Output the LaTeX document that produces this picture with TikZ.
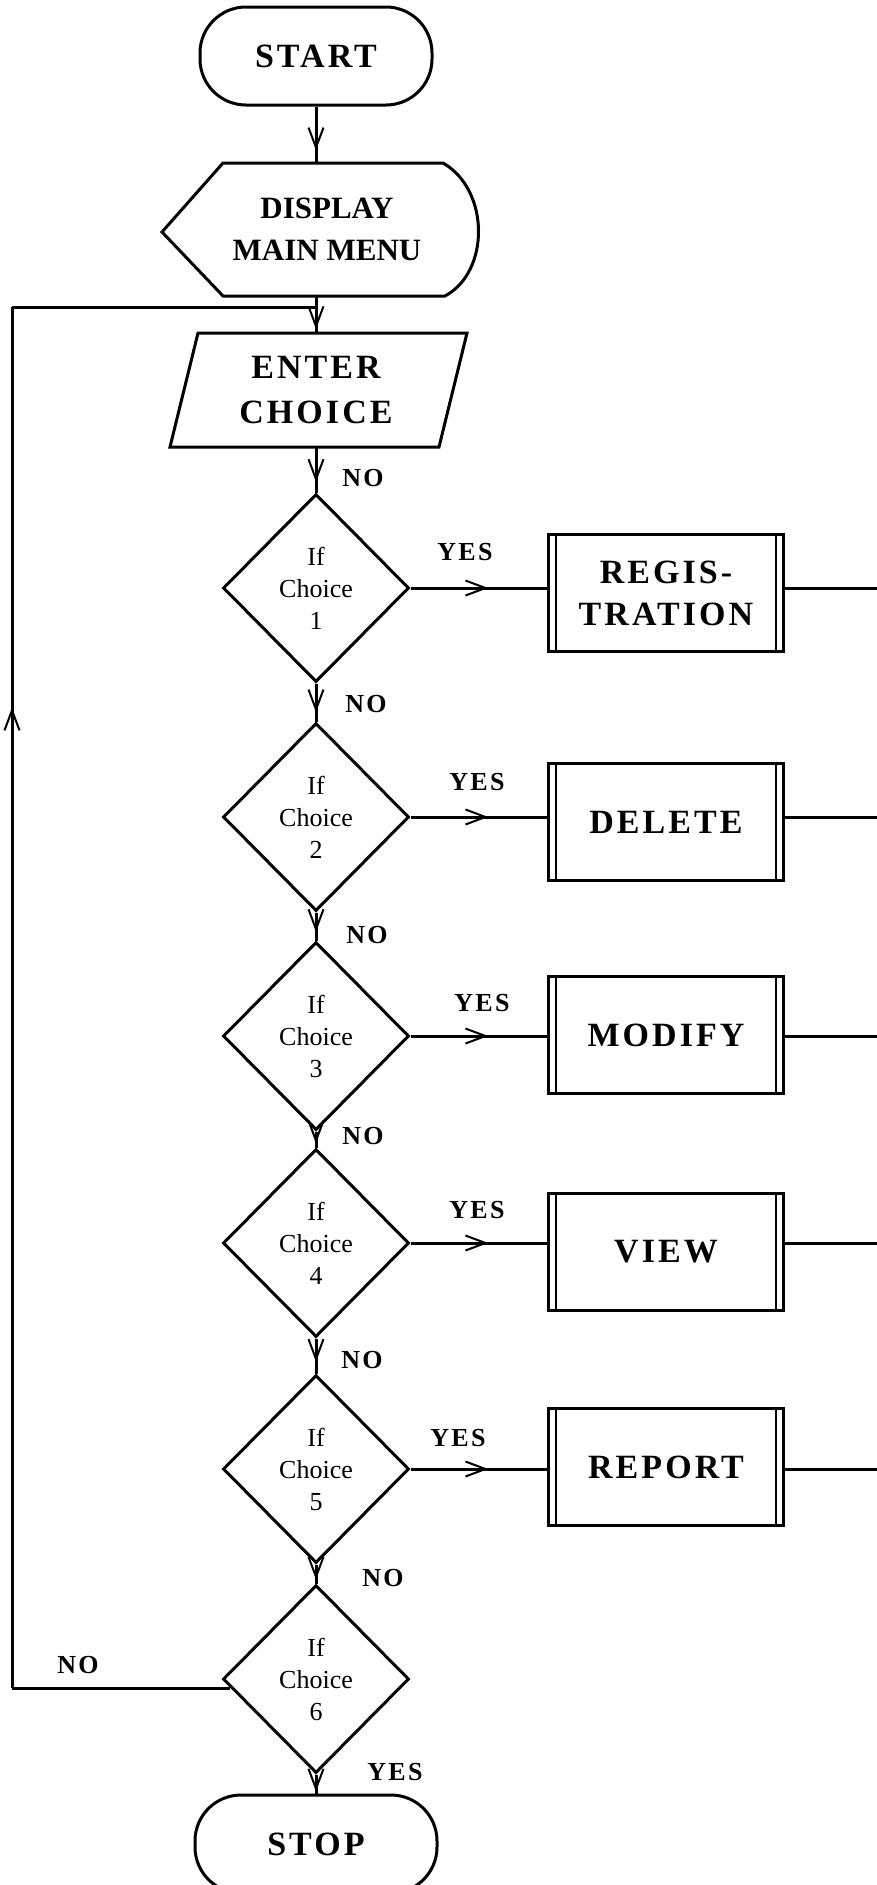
\documentclass[tikz,border=0pt]{standalone}
\usepackage{fontspec}
\setmainfont{Liberation Serif}
\newfontfamily\spaced[LetterSpace=9]{Liberation Serif}
\usetikzlibrary{shapes.geometric,arrows.meta,decorations.markings}

\begin{document}
\begin{tikzpicture}[x=1pt,y=-1pt]
\tikzstyle{every node}=[inner sep=0pt]
\tikzstyle{line}=[line width=3pt]
\tikzstyle{terminal}=[draw,line width=3pt,rounded corners=46pt,minimum width=232pt,minimum height=98pt,font=\spaced\bfseries\fontsize{34}{40}\selectfont]
\tikzstyle{inout}=[align=center,minimum width=200pt]
\tikzstyle{decision}=[draw,diamond,line width=3pt,minimum width=186pt,minimum height=188pt,align=center,font=\fontsize{26}{32}\selectfont]
\tikzstyle{process}=[draw,line width=3pt,minimum width=235pt,minimum height=117pt,align=center,font=\spaced\bfseries\fontsize{34}{42}\selectfont]
\tikzstyle{answer}=[font=\spaced\bfseries\fontsize{26}{30}\selectfont]
\tikzset{arrowat/.style={postaction={decorate},decoration={markings,mark=at position #1 with {\arrow{Straight Barb[length=20pt,width=15pt,line width=2pt]}}}}}
\useasboundingbox (0,0) rectangle (877,1885);

% main column
\node[terminal] (start) at (316,56) {START};
\draw[line] (162,232) -- (223,163) -- (443,163) .. controls (490,190) and (490,272) .. (445,296) -- (223,296) -- cycle;
\node[inout,minimum height=133pt,font=\bfseries\fontsize{31}{42}\selectfont] (menu) at (327,229.5) {DISPLAY\\MAIN MENU};
\draw[line] (198,333) -- (467,333) -- (439,447) -- (170,447) -- cycle;
\node[inout,minimum height=114pt,font=\spaced\bfseries\fontsize{34}{45}\selectfont] (enter) at (316,390) {ENTER\\CHOICE};
\node[decision] (d1) at (316,588) {If\\Choice\\1};
\node[decision] (d2) at (316,817) {If\\Choice\\2};
\node[decision] (d3) at (316,1036) {If\\Choice\\3};
\node[decision] (d4) at (316,1243) {If\\Choice\\4};
\node[decision] (d5) at (316,1469) {If\\Choice\\5};
\node[decision] (d6) at (316,1679) {If\\Choice\\6};
\node[terminal,minimum width=242pt] (stop) at (316,1844) {STOP};

% menu options
\node[process] (reg) at (666,593) {REGIS-\\TRATION};
\node[process] (del) at (666,822) {DELETE};
\node[process] (mod) at (666,1035) {MODIFY};
\node[process] (vw) at (666,1252) {VIEW};
\node[process] (rep) at (666,1467) {REPORT};
\foreach \b in {reg,del,mod,vw,rep}{
\draw[line width=2pt]([xshift=9pt]\b.north west)--([xshift=9pt]\b.south west);
\draw[line width=2pt]([xshift=-9pt]\b.north east)--([xshift=-9pt]\b.south east);
}

\coordinate (jt) at (316,307);
\coordinate (lt) at (12,307);
\coordinate (edge) at (877,0);
\coordinate (lb) at (d6.186 -| lt);

% connectors
\draw[line,arrowat=0.78] (start) -- (start |- menu.north);
\draw[line,arrowat=0.9] (enter |- menu.south) -- (enter);
\draw[line,arrowat=0.77] (enter) -- (d1);
\draw[line,arrowat=0.76] (d1) -- (d2);
\draw[line,arrowat=0.7] (d2) -- (d3);
\draw[line,arrowat=0.75] (d3) -- (d4);
\draw[line,arrowat=0.67] (d4) -- (d5);
\draw[line,arrowat=0.8] (d5) -- (d6);
\draw[line,arrowat=0.9] (d6) -- (stop);
\foreach \d/\b in {d1/reg,d2/del,d3/mod,d4/vw,d5/rep}{
\draw[line,arrowat=0.57] (\d.east) -- (\d.east -| \b.west);
\draw[line] (\d.east -| \b.east) -- (\d.east -| edge);
}
\draw[line] (d6.186) -- (lb);
\draw[line,arrowat=0.71] (lb) -- (lt);
\draw[line] (lt) -- (jt);

% labels
\node[answer] (no1) at (363,478) {NO};
\node[answer] (yes1) at (465,552) {YES};
\node[answer] (no2) at (366,704) {NO};
\node[answer] (yes2) at (477,782) {YES};
\node[answer] (no3) at (367,935) {NO};
\node[answer] (yes3) at (482,1003) {YES};
\node[answer] (no4) at (363,1136) {NO};
\node[answer] (yes4) at (477,1210) {YES};
\node[answer] (no5) at (362,1360) {NO};
\node[answer] (yes5) at (458,1438) {YES};
\node[answer] (no6) at (383,1578) {NO};
\node[answer] (no7) at (78,1665) {NO};
\node[answer] (yes6) at (395,1772) {YES};
\end{tikzpicture}
\end{document}
